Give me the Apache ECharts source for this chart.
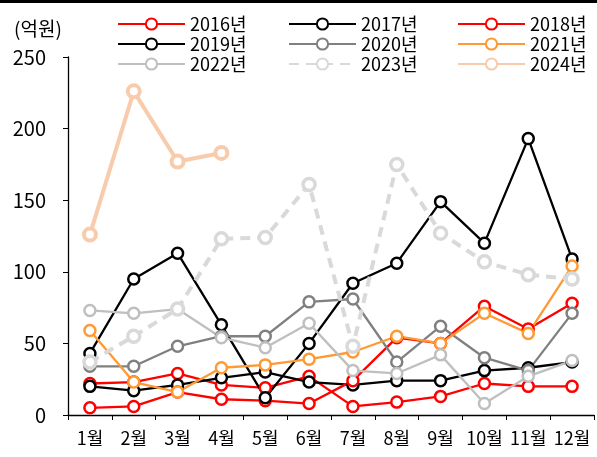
<!DOCTYPE html>
<html><head><meta charset="utf-8">
<script src="https://cdn.jsdelivr.net/npm/echarts@6/dist/echarts.min.js"></script>
<style>html,body{margin:0;padding:0;background:#fff}#c{width:597px;height:457px}</style>
</head><body><div id="c"></div>
<script>
const months = ['1월','2월','3월','4월','5월','6월','7월','8월','9월','10월','11월','12월'];
const unitLabel = '(억원)';
const s2016 = [22, 23, 29, 21, 19, 27, 6, 9, 13, 22, 20, 20];
const s2017 = [20, 17, 21, 26, 30, 23, 21, 24, 24, 31, 33, 37];
const s2018 = [5, 6, 16, 11, 10, 8, 24, 54, 50, 76, 60, 78];
const s2019 = [43, 95, 113, 63, 12, 50, 92, 106, 149, 120, 193, 109];
const s2020 = [34, 34, 48, 55, 55, 79, 81, 37, 62, 40, 31, 71];
const s2021 = [59, 23, 16, 33, 35, 39, 44, 55, 50, 71, 57, 104];
const s2022 = [73, 71, 74, 54, 47, 64, 31, 29, 42, 8, 27, 38];
const s2023 = [37, 55, 74, 123, 124, 161, 48, 175, 127, 107, 98, 95];
const s2024 = [126, 226, 177, 183];

const font = '"Noto Sans CJK KR", "Noto Sans", sans-serif';
function mk(name, data, color, opt) {
  opt = opt || {};
  return {
    name: name, type: 'line', data: data,
    symbol: 'circle', symbolSize: opt.size || 11,
    lineStyle: {color: color, width: opt.width || 2.3, type: opt.type || 'solid'},
    itemStyle: {color: '#fff', borderColor: color, borderWidth: opt.bw || 2.5},
    emphasis: {disabled: true}, animation: false
  };
}
const series = [
  mk('2016년', s2016, '#FF0000'),
  mk('2017년', s2017, '#000000'),
  mk('2018년', s2018, '#FF0000'),
  mk('2019년', s2019, '#000000'),
  mk('2020년', s2020, '#808080'),
  mk('2021년', s2021, '#FF9933'),
  mk('2022년', s2022, '#BFBFBF'),
  mk('2023년', s2023, '#D9D9D9', {width: 4, type: [10, 7], bw: 3.5, size: 12}),
  mk('2024년', s2024, '#F8CBAD', {width: 4, bw: 4, size: 12})
];
function leg(left, names) {
  return {
    orient: 'vertical', left: left, top: 10, itemWidth: 67, itemHeight: 14, itemGap: 2,
    data: names, selectedMode: false,
    textStyle: {fontFamily: font, fontSize: 18, color: '#000', lineHeight: 18}
  };
}
const chart = echarts.init(document.getElementById('c'), null, {renderer: 'canvas'});
chart.setOption({
  backgroundColor: '#fff',
  animation: false,
  graphic: [
    {type: 'rect', shape: {x: 0, y: 0, width: 597, height: 3}, style: {fill: '#000'}},
    {type: 'text', left: 14, top: 19, style: {text: unitLabel, fontFamily: font, fontSize: 19, fill: '#000'}}
  ],
  legend: [
    leg(112, ['2016년', '2019년', '2022년']),
    leg(283, ['2017년', '2020년', '2023년']),
    leg(452, ['2018년', '2021년', '2024년'])
  ],
  grid: {left: 68, right: 3, top: 57, bottom: 42},
  xAxis: {
    type: 'category', data: months, boundaryGap: true,
    axisLine: {lineStyle: {color: '#000', width: 1.3}},
    axisTick: {show: true, inside: false, length: 5, alignWithLabel: false, lineStyle: {color: '#000'}},
    axisLabel: {color: '#000', fontFamily: font, fontSize: 18, margin: 14, interval: 0}
  },
  yAxis: {
    type: 'value', min: 0, max: 250, interval: 50,
    axisLine: {show: true, lineStyle: {color: '#000', width: 1.3}},
    axisTick: {show: true, length: 5, lineStyle: {color: '#000'}},
    splitLine: {show: false},
    axisLabel: {color: '#000', fontFamily: font, fontSize: 20, margin: 22}
  },
  series: series
});
</script></body></html>
